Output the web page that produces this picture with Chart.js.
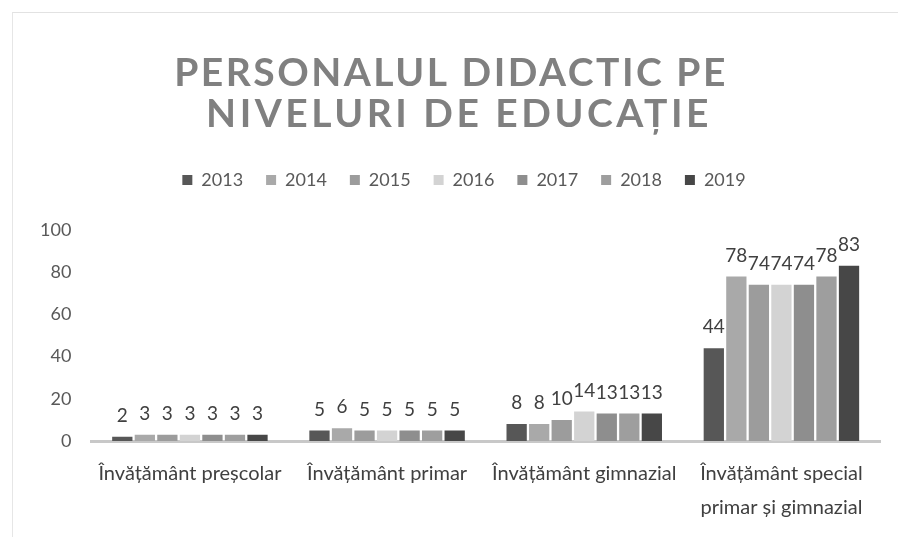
<!DOCTYPE html>
<html>
<head>
<meta charset="utf-8">
<script src="https://cdn.jsdelivr.net/npm/chart.js@4/dist/chart.umd.min.js"></script>
<style>
  html, body { margin: 0; padding: 0; background: #fff; }
  #wrap { position: relative; width: 898px; height: 537px; }
  #frame { position: absolute; left: 12px; top: 12px; width: 886px; height: 525px;
           border-top: 1px solid #e2e2e2; border-left: 1px solid #e6e6e6; pointer-events: none; }
  canvas { position: absolute; left: 0; top: 0; }
</style>
</head>
<body>
<div id="wrap">
  <canvas id="c" width="898" height="537"></canvas>
  <div id="frame"></div>
</div>
<script>
const titleLines = ["PERSONALUL DIDACTIC PE", "NIVELURI DE EDUCAȚIE"];
const categories = [
  "Învățământ preșcolar",
  "Învățământ primar",
  "Învățământ gimnazial",
  ["Învățământ special", "primar și gimnazial"]
];
const years = ["2013", "2014", "2015", "2016", "2017", "2018", "2019"];
const v2013 = [2, 5, 8, 44];
const v2014 = [3, 6, 8, 78];
const v2015 = [3, 5, 10, 74];
const v2016 = [3, 5, 14, 74];
const v2017 = [3, 5, 13, 74];
const v2018 = [3, 5, 13, 78];
const v2019 = [3, 5, 13, 83];
const yTicks = [0, 20, 40, 60, 80, 100];

const seriesValues = [v2013, v2014, v2015, v2016, v2017, v2018, v2019];
const seriesColors = ["#575757", "#a9a9a9", "#9c9c9c", "#d3d3d3", "#8e8e8e", "#9e9e9e", "#474747"];

const FONT = "Lato, 'Open Sans', sans-serif";

// Title drawn with letter spacing (Chart.js title box has no letter-spacing option)
const spacedTitle = {
  id: "spacedTitle",
  afterDraw(chart) {
    const ctx = chart.ctx;
    ctx.save();
    ctx.font = "bold 39px " + FONT;
    ctx.fillStyle = "#808080";
    ctx.textAlign = "center";
    ctx.textBaseline = "middle";
    if ("letterSpacing" in ctx) ctx.letterSpacing = "2.5px";
    ctx.fillText(titleLines[0], 451, 73);
    if ("letterSpacing" in ctx) ctx.letterSpacing = "3.5px";
    ctx.fillText(titleLines[1], 459, 114);
    ctx.restore();
  }
};

// Extra space below the legend, and legend nudged right as in the reference
const legendTweak = {
  id: "legendTweak",
  beforeInit(chart) {
    const lg = chart.legend;
    if (!lg) return;
    const origFit = lg.fit;
    lg.fit = function () {
      origFit.call(this);
      this.height += 32;
    };
    const origDraw = lg.draw;
    lg.draw = function () {
      const ctx = this.ctx;
      ctx.save();
      ctx.translate(10, 1);
      origDraw.call(this);
      ctx.restore();
    };
  }
};

const valueLabels = {
  id: "valueLabels",
  afterDatasetsDraw(chart) {
    const ctx = chart.ctx;
    ctx.save();
    ctx.font = "19px " + FONT;
    ctx.fillStyle = "#404040";
    ctx.textAlign = "center";
    ctx.textBaseline = "middle";
    chart.data.datasets.forEach((ds, i) => {
      const meta = chart.getDatasetMeta(i);
      meta.data.forEach((el, j) => {
        ctx.fillText(String(ds.data[j]), el.x, el.y - 21);
      });
    });
    ctx.restore();
  }
};

new Chart(document.getElementById("c"), {
  type: "bar",
  data: {
    labels: categories,
    datasets: years.map((y, i) => ({
      label: y,
      data: seriesValues[i],
      backgroundColor: seriesColors[i],
      borderWidth: 0,
      categoryPercentage: 0.8,
      barPercentage: 0.9
    }))
  },
  options: {
    responsive: false,
    devicePixelRatio: 1,
    animation: false,
    layout: { padding: { left: 28, right: 18, top: 147, bottom: 4 } },
    plugins: {
      title: { display: false },
      legend: {
        display: true,
        position: "top",
        labels: {
          color: "#595959",
          font: { family: FONT, size: 18 },
          boxWidth: 10,
          boxHeight: 10,
          padding: 23
        }
      },
      tooltip: { enabled: false }
    },
    scales: {
      x: {
        grid: { display: false },
        border: { display: true, color: "#c8c8c8", width: 3 },
        ticks: {
          color: "#404040",
          font: { family: FONT, size: 20, lineHeight: 1.7 },
          maxRotation: 0,
          autoSkip: false,
          padding: 8
        }
      },
      y: {
        min: 0,
        max: 100,
        grid: { display: false },
        border: { display: false },
        afterBuildTicks(axis) { axis.ticks = yTicks.map(v => ({ value: v })); },
        ticks: {
          color: "#595959",
          font: { family: FONT, size: 18 },
          padding: 12
        }
      }
    }
  },
  plugins: [legendTweak, valueLabels, spacedTitle]
});
</script>
</body>
</html>
